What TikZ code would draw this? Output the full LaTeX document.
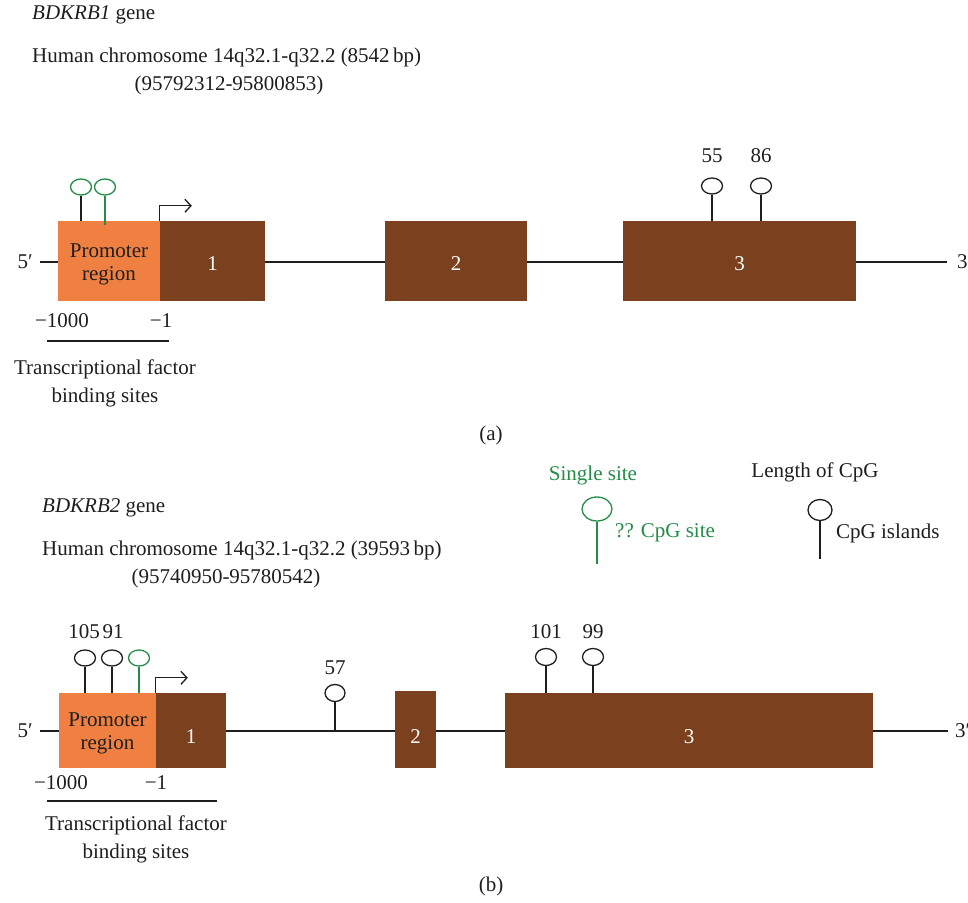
\documentclass[tikz,border=0pt]{standalone}
\usepackage{fontspec}
\setmainfont{Liberation Serif}
\usetikzlibrary{shapes.geometric,arrows.meta}
\definecolor{promorange}{RGB}{240,128,66}
\definecolor{exonbrown}{RGB}{123,64,30}
\definecolor{cpggreen}{RGB}{35,140,70}
\definecolor{ink}{RGB}{30,30,30}
\tikzset{
  txt/.style={inner sep=0pt, text=ink, font=\fontsize{21}{28}\selectfont},
  promotext/.style={inner sep=0pt, align=center, text=ink,
    font=\fontsize{21}{23}\selectfont},
  exon/.style={fill=exonbrown, draw=none, inner sep=0pt},
  exonnum/.style={inner sep=0pt, text=white, font=\fontsize{21}{23}\selectfont},
  backbone/.style={draw=ink, line width=1.3pt},
  stem/.style={draw=ink, line width=1.3pt},
  gstem/.style={draw=cpggreen, line width=1.3pt},
  lhead/.style={ellipse, draw=ink, line width=1.3pt, inner sep=0pt,
    minimum width=21pt, minimum height=16pt},
  ghead/.style={lhead, draw=cpggreen},
  tss/.style={draw=ink, line width=1.3pt, -{Straight Barb[length=6pt,width=13pt]}},
  rule/.style={draw=ink, line width=1.3pt},
}
\begin{document}
\begin{tikzpicture}[x=1pt,y=-1pt]
\useasboundingbox (0,0) rectangle (968,902);

% ---------------- (a) BDKRB1 ----------------
\node[txt, anchor=west] (ttla) at (32,15) {\textit{BDKRB1} gene};
\node[txt, anchor=west] (chra) at (32,57) {Human chromosome 14q32.1-q32.2 (8542\,bp)};
\node[txt] (posa) at (229,85) {(95792312-95800853)};

\coordinate (a5) at (40,262);
\coordinate (a3) at (947,262);
\draw[backbone] (a5) -- (a3);
\node[txt, anchor=east] (a5lbl) at ([xshift=-7pt]a5) {5′};
\node[txt, anchor=west] (a3lbl) at ([xshift=10pt]a3) {3′};

\node[exon, minimum width=102pt, minimum height=80pt, fill=promorange] (pa) at (109,261) {};
\node[exon, minimum width=105pt, minimum height=80pt] (ea1) at (212.5,261) {};
\node[exon, minimum width=142pt, minimum height=80pt] (ea2) at (456,261) {};
\node[exon, minimum width=233pt, minimum height=80pt] (ea3) at (739.5,261) {};
\node[promotext] (pat) at ([yshift=-3pt]pa.center) {Promoter\\region};
\node[exonnum] (ea1t) at ([yshift=-3pt]ea1.center) {1};
\node[exonnum] (ea2t) at ([yshift=-3pt]ea2.center) {2};
\node[exonnum] (ea3t) at ([yshift=-3pt]ea3.center) {3};

% CpG sites in the promoter
\node[ghead] (ha1) at (81,187) {};
\node[ghead] (ha2) at (105,187) {};
\draw[stem] (ha1.south) -- (ha1 |- pa.north);
\draw[gstem] (ha2.south) -- ([yshift=-4pt]ha2 |- pa.north);

% CpG islands in exon 3
\node[lhead] (ha3) at (712,186) {};
\node[lhead] (ha4) at (761,186) {};
\draw[stem] (ha3.south) -- (ha3 |- ea3.north);
\draw[stem] (ha4.south) -- (ha4 |- ea3.north);
\node[txt] (la3) at (712,156) {55};
\node[txt] (la4) at (761,156) {86};

% transcription start
\draw[tss] (ea1.north west) -- ++(0,-15) -- ++(32,0);

\node[txt] (ma1000) at (62,321) {−1000};
\node[txt] (ma1) at (161,321) {−1};
\coordinate (ula) at (47,341);
\coordinate (ulb) at (169,341);
\draw[rule] (ula) -- (ulb);
\node[txt, align=center] (tfa) at (105,383) {Transcriptional factor\\binding sites};
\node[txt] (capa) at (491,435) {(a)};

% ---------------- legend ----------------
\node[txt, text=cpggreen] (lgs) at (593,475) {Single site};
\node[ghead, minimum width=30pt, minimum height=24pt] (lgh) at (597,509) {};
\coordinate (lgb) at (597,564);
\draw[gstem] (lgh.south) -- (lgb);
\node[txt, text=cpggreen, anchor=west] (lgt) at (615,533) {?? CpG site};

\node[txt] (lbs) at (815,472) {Length of CpG};
\node[lhead, minimum width=24pt, minimum height=21pt] (lbh) at (820,510) {};
\coordinate (lbb) at (820,559);
\draw[stem] (lbh.south) -- (lbb);
\node[txt, anchor=west] (lbt) at (836,533) {CpG islands};

% ---------------- (b) BDKRB2 ----------------
\node[txt, anchor=west] (ttlb) at (42,508) {\textit{BDKRB2} gene};
\node[txt, anchor=west] (chrb) at (42,550) {Human chromosome 14q32.1-q32.2 (39593\,bp)};
\node[txt] (posb) at (226,578) {(95740950-95780542)};

\coordinate (b5) at (40,731);
\coordinate (b3) at (948,731);
\draw[backbone] (b5) -- (b3);
\node[txt, anchor=east] (b5lbl) at ([xshift=-7pt]b5) {5′};
\node[txt, anchor=west] (b3lbl) at ([xshift=7pt]b3) {3′};

\node[exon, minimum width=97pt, minimum height=75pt, fill=promorange] (pb) at (107.5,730.5) {};
\node[exon, minimum width=70pt, minimum height=75pt] (eb1) at (191,730.5) {};
\node[exon, minimum width=41pt, minimum height=77pt] (eb2) at (415.5,729.5) {};
\node[exon, minimum width=368pt, minimum height=75pt] (eb3) at (689,730.5) {};
\node[promotext] (pbt) at ([yshift=-3pt]pb.center) {Promoter\\region};
\node[exonnum] (eb1t) at ([yshift=-6pt]eb1.center) {1};
\node[exonnum] (eb2t) at ([yshift=-7pt]eb2.center) {2};
\node[exonnum] (eb3t) at ([yshift=-6pt]eb3.center) {3};

% CpG islands and site in the promoter
\node[lhead] (hb1) at (85,658) {};
\node[lhead] (hb2) at (112,658) {};
\node[ghead] (hb3) at (139,658) {};
\draw[stem] (hb1.south) -- (hb1 |- pb.north);
\draw[stem] (hb2.south) -- (hb2 |- pb.north);
\draw[gstem] (hb3.south) -- (hb3 |- pb.north);
\node[txt] (lb1) at (84,632) {105};
\node[txt] (lb2) at (113,632) {91};

% CpG island in intron 1
\node[lhead, minimum width=20pt, minimum height=17pt] (hb4) at (335,693) {};
\draw[stem] (hb4.south) -- (hb4 |- b5);
\node[txt] (lb4) at (335,668) {57};

% CpG islands in exon 3
\node[lhead, minimum width=21pt, minimum height=17pt] (hb5) at (546,657) {};
\node[lhead, minimum width=21pt, minimum height=17pt] (hb6) at (593,657) {};
\draw[stem] (hb5.south) -- (hb5 |- eb3.north);
\draw[stem] (hb6.south) -- (hb6 |- eb3.north);
\node[txt] (lb5) at (546,632) {101};
\node[txt] (lb6) at (593,632) {99};

% transcription start
\draw[tss] (eb1.north west) -- ++(0,-15) -- ++(32,0);

\node[txt] (mb1000) at (61,783) {−1000};
\node[txt] (mb1) at (156,783) {−1};
\coordinate (ulc) at (47,801);
\coordinate (uld) at (217,801);
\draw[rule] (ulc) -- (uld);
\node[txt, align=center] (tfb) at (136,839) {Transcriptional factor\\binding sites};
\node[txt] (capb) at (491,886) {(b)};
\end{tikzpicture}
\end{document}
